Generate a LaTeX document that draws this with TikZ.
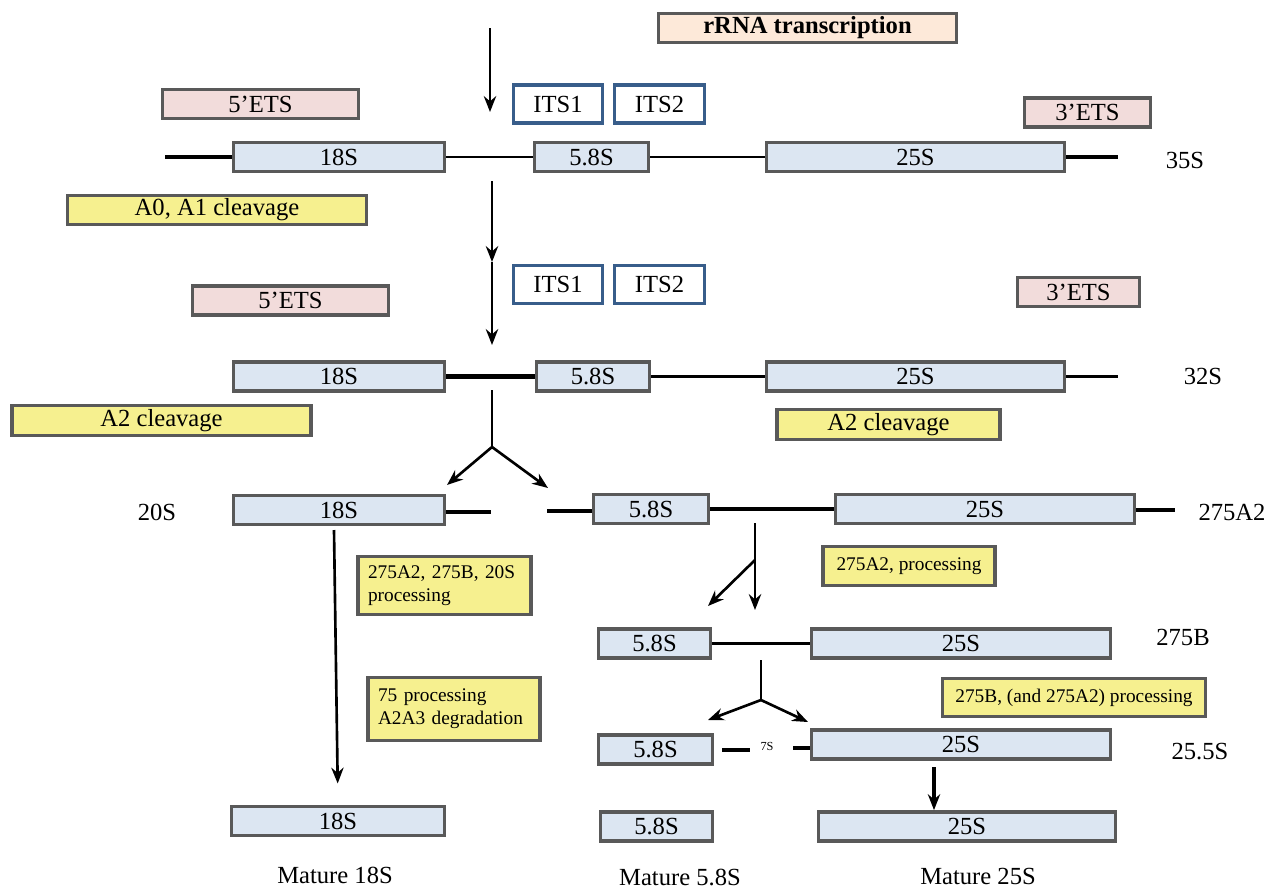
\documentclass[tikz,border=0pt]{standalone}
\usepackage{fontspec}
\setmainfont{Liberation Serif}
\usetikzlibrary{arrows.meta}
\definecolor{boxgray}{HTML}{595959}
\definecolor{rnablue}{HTML}{DCE6F2}
\definecolor{etspink}{HTML}{F2DCDB}
\definecolor{cutyellow}{HTML}{F6F08F}
\definecolor{peach}{HTML}{FDE9D9}
\definecolor{itsblue}{HTML}{385D8A}
\begin{document}
\begin{tikzpicture}[x=0.02cm,y=-0.02cm,
  rna/.style={draw=boxgray,line width=2.2pt,fill=rnablue,inner sep=0pt,minimum height=0.58cm,font=\fontsize{14}{16}\selectfont},
  ets/.style={rna,fill=etspink},
  cut/.style={rna,fill=cutyellow},
  title/.style={rna,fill=peach},
  its/.style={draw=itsblue,line width=2.2pt,fill=white,inner sep=0pt,minimum height=0.76cm,font=\fontsize{14}{16}\selectfont},
  step2/.style={draw=boxgray,line width=2.2pt,fill=cutyellow,inner xsep=0.2cm,inner ysep=0pt,align=left,font=\fontsize{11}{13}\selectfont},
  lbl/.style={font=\fontsize{14}{16}\selectfont},
  thinline/.style={line width=1.4pt},
  thickline/.style={line width=2.6pt},
  arr/.style={line width=1.5pt,-{Stealth[length=9pt,width=7pt]}}]
\useasboundingbox (0,0) rectangle (1279,890);

% 35S
\node[title,minimum width=5.96cm] (transcr) at (807.5,28) {\textbf{rRNA transcription}};
\coordinate (topA) at (490,28);
\coordinate (topB) at (490,112);
\path[draw,arr] (topA) -- (topB);

\node[its,minimum width=1.78cm] (its1a) at (558,104) {ITS1};
\node[its,minimum width=1.8cm] (its2a) at (659.5,104) {ITS2};
\node[ets,minimum width=3.92cm] (ets5a) at (260.5,104) {5’ETS};
\node[ets,minimum width=2.52cm] (ets3a) at (1087.5,112.5) {3’ETS};
\node[rna,minimum width=4.22cm] (s18a) at (339,157) {18S};
\node[rna,minimum width=2.28cm] (s58a) at (591.5,157) {5.8S};
\node[rna,minimum width=5.96cm] (s25a) at (915.5,157) {25S};
\coordinate (s35l) at (165,157);
\coordinate (s35r) at (1118,157);
\node[lbl] (l35) at (1185,160) {35S};
\path[draw,thickline] (s35l) -- (s18a);
\path[draw,thinline] (s18a) -- (s58a);
\path[draw,thinline] (s58a) -- (s25a);
\path[draw,thickline] (s25a) -- (s35r);
\node[cut,minimum width=5.98cm] (cutA) at (217,210) {A0, A1 cleavage};

% 32S
\coordinate (midA) at (492,181);
\coordinate (midB) at (492,262);
\coordinate (midC) at (492,345);
\path[draw,arr] (midA) -- (midB);
\path[draw,arr] (midB) -- (midC);

\node[its,minimum width=1.78cm] (its1b) at (558,284.5) {ITS1};
\node[its,minimum width=1.8cm] (its2b) at (659.5,284.5) {ITS2};
\node[ets,minimum width=3.92cm] (ets5b) at (290.5,300.5) {5’ETS};
\node[ets,minimum width=2.44cm] (ets3b) at (1078.5,292) {3’ETS};
\node[rna,minimum width=4.22cm] (s18b) at (339,376.5) {18S};
\node[rna,minimum width=2.26cm] (s58b) at (593,376.5) {5.8S};
\node[rna,minimum width=5.96cm] (s25b) at (915.5,376.5) {25S};
\coordinate (s32r) at (1118,376.5);
\node[lbl] (l32) at (1203,376) {32S};
\path[draw,thickline] (s18b) -- (s58b);
\path[draw,thinline] (s58b) -- (s25b);
\path[draw,thinline] (s25b) -- (s32r);
\node[cut,minimum width=5.98cm,minimum height=0.6cm] (cutB) at (161.5,420.5) {A2 cleavage};
\node[cut,minimum width=4.46cm,minimum height=0.6cm] (cutC) at (888.5,424.5) {A2 cleavage};

\coordinate (splitA) at (492,390);
\coordinate (forkA) at (492,447);
\coordinate (forkAl) at (447,485);
\coordinate (forkAr) at (548,488);
\path[draw,line width=1.5pt] (splitA) -- (forkA);
\path[draw,arr] (forkA) -- (forkAl);
\path[draw,arr] (forkA) -- (forkAr);

% 20S and 27SA2
\node[lbl] (l20) at (157,512) {20S};
\node[rna,minimum width=4.22cm] (s18c) at (339,510) {18S};
\coordinate (stub18c) at (491,512);
\path[draw,thickline] (s18c.east |- stub18c) -- (stub18c);
\coordinate (stub58c) at (547,511);
\node[rna,minimum width=2.3cm] (s58c) at (651,509) {5.8S};
\node[rna,minimum width=5.98cm] (s25c) at (985,509) {25S};
\coordinate (s27r) at (1175,510);
\node[lbl] (l27a) at (1232,512) {275A2};
\path[draw,thickline] (stub58c) -- (s58c.west |- stub58c);
\path[draw,thickline] (s58c.east) -- (s25c.west);
\path[draw,thickline] (s25c.east |- s27r) -- (s27r);

\coordinate (long18a) at (334,530);
\node[rna,minimum width=4.26cm] (s18f) at (338,821) {18S};
\path[draw,arr,shorten >=12pt] (long18a) -- (s18f.north);

\node[step2,text width=3.06cm,minimum height=1.16cm] (procA) at (444.5,585.5) {275A2, 275B, 20S\\processing};
\node[step2,text width=3.04cm,minimum height=1.26cm] (procB) at (454,709) {75 processing\\A2A3 degradation};
\node[step2,align=center,minimum width=3.44cm,minimum height=0.78cm] (procC) at (909,566) {275A2, processing};

\coordinate (splitB) at (755,523);
\coordinate (forkB) at (755,560);
\coordinate (forkBd) at (755,610);
\coordinate (forkBl) at (708,606);
\path[draw,arr] (splitB) -- (forkBd);
\path[draw,arr] (forkB) -- (forkBl);

% 27SB
\node[rna,minimum width=2.24cm] (s58d) at (654.5,643.5) {5.8S};
\node[rna,minimum width=5.98cm] (s25d) at (961,643.5) {25S};
\node[lbl] (l27b) at (1183,637) {275B};
\path[draw,thinline] (s58d) -- (s25d);
\node[step2,align=center,minimum width=5.26cm,minimum height=0.76cm] (procD) at (1074,697.5) {275B, (and 275A2) processing};

\coordinate (splitC) at (761,660);
\coordinate (forkC) at (761,700);
\coordinate (forkCl) at (708,720);
\coordinate (forkCr) at (808,722);
\path[draw,line width=1.5pt] (splitC) -- (forkC);
\path[draw,arr] (forkC) -- (forkCl);
\path[draw,arr] (forkC) -- (forkCr);

% 25.5S
\node[rna,minimum width=2.28cm] (s58e) at (655.5,749.5) {5.8S};
\node[rna,minimum width=5.98cm] (s25e) at (961,744.5) {25S};
\coordinate (stub7l) at (722,750);
\coordinate (stub7r) at (750,750);
\node[font=\fontsize{7}{8}\selectfont,inner sep=1pt] (s7) at (767,746) {7S};
\coordinate (stub7s) at (793,748);
\path[draw,thickline] (stub7l) -- (stub7r);
\path[draw,thickline] (stub7s) -- (s25e.west |- stub7s);
\node[lbl] (l255) at (1200,752) {25.5S};

% mature
\node[rna,minimum width=2.24cm] (s58f) at (656.5,826.5) {5.8S};
\node[rna,minimum width=5.94cm] (s25f) at (967,826.5) {25S};
\coordinate (down25a) at (934,767);
\path[draw,arr,line width=1.8pt] (down25a) -- (down25a |- s25f.north);

\node[lbl] (m18) at (335,875) {Mature 18S};
\node[lbl] (m58) at (680,877) {Mature 5.8S};
\node[lbl] (m25) at (978,876) {Mature 25S};
\end{tikzpicture}
\end{document}
